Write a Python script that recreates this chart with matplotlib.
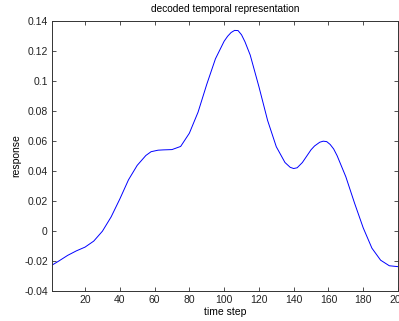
import matplotlib
matplotlib.use("Agg")
import matplotlib.pyplot as plt

# values
time_step = [1, 5, 10, 15, 20, 25, 30, 35, 40, 45, 50, 55, 58, 62, 65, 70,
             75, 80, 85, 90, 95, 100, 102, 104, 106, 108, 110, 112, 115,
             120, 125, 130, 135, 138, 140, 142, 145, 150, 152, 155, 157,
             159, 161, 163, 165, 170, 175, 180, 185, 190, 195, 200]
response = [-0.0228, -0.0200, -0.0163, -0.0133, -0.0108, -0.0068, -0.0002,
            0.0093, 0.0212, 0.0340, 0.0436, 0.0502, 0.0527, 0.0537, 0.0539,
            0.0541, 0.0562, 0.0650, 0.0790, 0.0975, 0.1145, 0.1262, 0.1295,
            0.1320, 0.1334, 0.1333, 0.1305, 0.1258, 0.1170, 0.0960, 0.0735,
            0.0560, 0.0455, 0.0423, 0.0415, 0.0420, 0.0455, 0.0540, 0.0565,
            0.0590, 0.0597, 0.0594, 0.0575, 0.0545, 0.0500, 0.0360, 0.0185,
            0.0020, -0.0115, -0.0195, -0.0232, -0.0238]

x_ticks = [20, 40, 60, 80, 100, 120, 140, 160, 180, 200]
y_ticks = [-0.04, -0.02, 0, 0.02, 0.04, 0.06, 0.08, 0.1, 0.12, 0.14]
y_tick_labels = ["-0.04", "-0.02", "0", "0.02", "0.04", "0.06", "0.08",
                 "0.1", "0.12", "0.14"]

plt.rcParams["font.family"] = ["Liberation Sans", "DejaVu Sans"]
plt.rcParams["font.size"] = 7.5

fig = plt.figure(figsize=(3.99, 3.21), dpi=100)
ax = fig.add_axes([52 / 399, 30 / 321, 346 / 399, 270.5 / 321])

ax.plot(time_step, response, color="#0000ff", linewidth=0.7)

ax.set_xlim(1, 200)
ax.set_ylim(-0.04, 0.14)
ax.set_xticks(x_ticks)
ax.set_yticks(y_ticks)
ax.set_yticklabels(y_tick_labels)
ax.tick_params(direction="in", top=True, right=True, length=3, width=0.6,
               colors="#333333", labelcolor="#222222", pad=3)
for s in ax.spines.values():
    s.set_color("#333333")
    s.set_linewidth(0.7)

ax.set_title("decoded temporal representation", fontsize=7.3, pad=6)
ax.set_xlabel("time step", labelpad=1)
ax.set_ylabel("response", labelpad=2)

fig.savefig("out.png", dpi=100)
